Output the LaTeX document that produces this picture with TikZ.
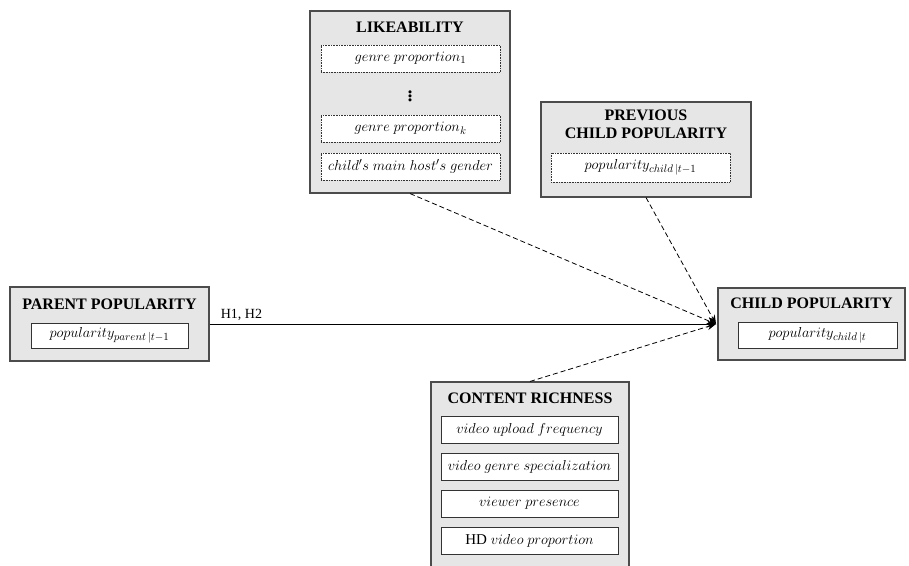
\documentclass[tikz,border=0pt]{standalone}
\usepackage{amsmath}
\usepackage{fontspec}
\setmainfont{Liberation Serif}
\usepackage{tikz}
\usetikzlibrary{positioning, arrows.meta}

\definecolor{boxgray}{RGB}{230,230,230}
\tikzset{
    groupbox/.style={draw=black!70, line width=1.1pt, fill=boxgray, inner sep=0pt},
    heading/.style={font=\fontsize{16}{18}\selectfont\bfseries, align=center, inner sep=0pt},
    varbox/.style={draw=black!80, line width=0.6pt, fill=white, inner sep=0pt, font=\fontsize{15}{17}\selectfont},
    dotbox/.style={varbox, densely dotted},
    link/.style={-{Stealth[length=9pt, width=7pt]}, line width=0.8pt},
}

\begin{document}
\begin{tikzpicture}[x=1pt, y=-1pt]
            \useasboundingbox (0,0) rectangle (909,565);

            % likeability
            \node[groupbox, minimum width=200pt, minimum height=182pt] (like) at (410,102) {};
            \node[heading] (likeTitle) at (410,27) {LIKEABILITY};
            \node[dotbox, minimum width=179pt, minimum height=27pt] (genreA) at (410.5,58.5) {$genre\ proportion_1$};
            \node[font=\fontsize{26}{26}\selectfont] (vdots) at (410,93) {$\vdots$};
            \node[dotbox, minimum width=179pt, minimum height=27pt] (genreK) at (410.5,128.5) {$genre\ proportion_k$};
            \node[dotbox, minimum width=179pt, minimum height=27pt] (hostGender) at (410.5,166.5) {$child's\ main\ host's\ gender$};

            % previous child popularity
            \node[groupbox, minimum width=210pt, minimum height=95pt] (prev) at (646,149.5) {};
            \node[heading] (prevTitle) at (646,124) {PREVIOUS\\CHILD POPULARITY};
            \node[dotbox, minimum width=179pt, minimum height=29pt] (prevPop) at (640.5,167.5) {$popularity_{child\,|t-1}$};

            % parent popularity
            \node[groupbox, minimum width=199pt, minimum height=74pt] (parent) at (109.5,324) {};
            \node[heading] (parentTitle) at (109.5,304) {PARENT POPULARITY};
            \node[varbox, minimum width=157pt, minimum height=25pt] (parentPop) at (109.5,335.5) {$popularity_{parent\,|t-1}$};

            % child popularity
            \node[groupbox, minimum width=187pt, minimum height=72pt] (child) at (811.5,324) {};
            \node[heading] (childTitle) at (811.5,303) {CHILD POPULARITY};
            \node[varbox, minimum width=159pt, minimum height=26pt] (childPop) at (817.5,335) {$popularity_{child\,|t}$};

            % content richness
            \node[groupbox, minimum width=198pt, minimum height=193pt] (rich) at (530,478.5) {};
            \node[heading] (richTitle) at (530,398) {CONTENT RICHNESS};
            \node[varbox, minimum width=177pt, minimum height=27pt] (upload) at (529.5,429.5) {$video\ upload\ frequency$};
            \node[varbox, minimum width=177pt, minimum height=27pt] (special) at (529.5,466.5) {$video\ genre\ specialization$};
            \node[varbox, minimum width=177pt, minimum height=27pt] (viewer) at (529.5,503.5) {$viewer\ presence$};
            \node[varbox, minimum width=177pt, minimum height=27pt] (hd) at (529.5,540.5) {HD $video\ proportion$};

            \coordinate (hub) at (716,324);

            \draw[link] (parent.east) -- node[above, pos=0.063, font=\fontsize{14}{16}\selectfont] (hyp) {H1, H2} (hub);
            \draw[link, dash pattern=on 5pt off 3pt] (like.south) -- (hub);
            \draw[link, dash pattern=on 5pt off 3pt] (prev.south) -- (hub);
            \draw[link, dash pattern=on 5pt off 3pt] (rich.north) -- (hub);
        \end{tikzpicture}
\end{document}
